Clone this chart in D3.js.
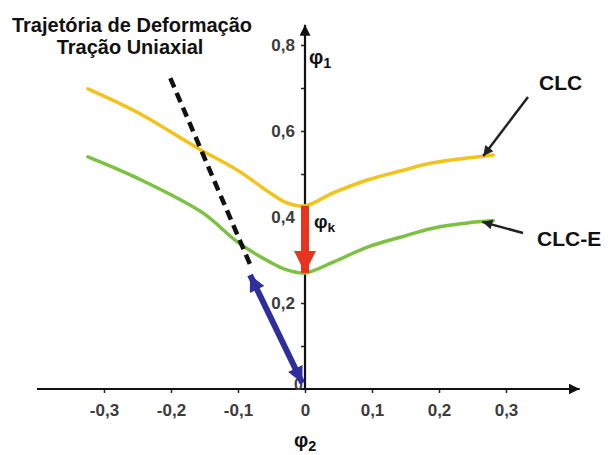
<!DOCTYPE html>
<html>
<head>
<meta charset="utf-8">
<script src="https://cdn.jsdelivr.net/npm/d3@7"></script>
<style>
  html, body { margin: 0; padding: 0; background: #fff; }
  svg { display: block; }
  text { font-family: "Liberation Sans", Arial, sans-serif; }
</style>
</head>
<body>
<svg id="chart" width="609" height="455"></svg>
<script>
// Axis ticks (φ2 horizontal, φ1 vertical)
const phi2Ticks = [-0.3, -0.2, -0.1, 0, 0.1, 0.2, 0.3];
const phi1Ticks = [0.1, 0.2, 0.3, 0.4, 0.5, 0.6, 0.7, 0.8];
const phi1Labels = [0.2, 0.4, 0.6, 0.8];

// Forming limit curve (CLC)
const clcPhi2 = [-0.324, -0.251, -0.160, -0.101, -0.052, -0.027, 0, 0.042, 0.093, 0.142, 0.191, 0.242, 0.281];
const clcPhi1 = [0.698, 0.644, 0.560, 0.509, 0.456, 0.433, 0.426, 0.456, 0.486, 0.507, 0.526, 0.537, 0.544];

// Shifted limit curve (CLC-E)
const clcePhi2 = [-0.324, -0.251, -0.152, -0.101, -0.052, -0.027, 0, 0.042, 0.093, 0.142, 0.191, 0.242, 0.281];
const clcePhi1 = [0.540, 0.491, 0.409, 0.342, 0.295, 0.277, 0.270, 0.295, 0.330, 0.353, 0.374, 0.386, 0.391];

// Uniaxial tension strain path (dashed) and the strain reached (arrow)
const pathPhi2 = [-0.201, -0.079];
const pathPhi1 = [0.723, 0.279];
const strainPhi2 = [-0.004, -0.082];
const strainPhi1 = [0.014, 0.265];

// φk: drop of the plane-strain limit from CLC to CLC-E
const phiKFrom = 0.426;
const phiKTo = 0.270;

const svg = d3.select("#chart");
const x = d3.scaleLinear().domain([-0.3, 0.3]).range([104, 506]);
const y = d3.scaleLinear().domain([0, 0.8]).range([389, 45]);
const fmt = d => (Math.abs(d) < 1e-9 ? "0" : d.toFixed(1).replace(".", ","));

const defs = svg.append("defs");
function marker(id, color, w, h) {
  defs.append("marker")
    .attr("id", id).attr("viewBox", "0 0 10 10")
    .attr("refX", 10).attr("refY", 5)
    .attr("markerWidth", w).attr("markerHeight", h)
    .attr("markerUnits", "userSpaceOnUse")
    .attr("orient", "auto-start-reverse")
    .append("path").attr("d", "M0,0 L10,5 L0,10 Z").attr("fill", color);
}
marker("axisHead", "#111", 11, 11);
marker("noteHead", "#222", 12, 10);
marker("blueHead", "#2e2e9c", 18, 16);
marker("redHead", "#e8341f", 24, 22);

// Axes
const gx = svg.append("g").attr("transform", `translate(0,${y(0)})`)
  .call(d3.axisBottom(x).tickValues(phi2Ticks).tickSize(4).tickPadding(11).tickFormat(fmt));
gx.select(".domain").remove();
gx.selectAll(".tick line").attr("stroke", "#222").attr("stroke-width", 1.5);
gx.selectAll(".tick text")
  .attr("font-size", 17).attr("font-weight", "bold").attr("fill", "#3c3c3c")
  .attr("font-family", "Liberation Sans, Arial, sans-serif");

const gy = svg.append("g").attr("transform", `translate(${x(0)},0)`)
  .call(d3.axisLeft(y).tickValues(phi1Ticks).tickSize(4).tickPadding(6)
    .tickFormat(d => phi1Labels.some(v => Math.abs(v - d) < 1e-9) ? fmt(d) : ""));
gy.select(".domain").remove();
gy.selectAll(".tick line").attr("stroke", "#222").attr("stroke-width", 1.5);
gy.selectAll(".tick text")
  .attr("font-size", 17).attr("font-weight", "bold").attr("fill", "#3c3c3c")
  .attr("font-family", "Liberation Sans, Arial, sans-serif");

svg.append("line")
  .attr("x1", x(-0.4)).attr("x2", x(0.41)).attr("y1", y(0)).attr("y2", y(0))
  .attr("stroke", "#111").attr("stroke-width", 2.2).attr("marker-end", "url(#axisHead)");
svg.append("line")
  .attr("x1", x(0)).attr("x2", x(0)).attr("y1", y(0)).attr("y2", y(0.847))
  .attr("stroke", "#111").attr("stroke-width", 2.2).attr("marker-end", "url(#axisHead)");

// Origin label
svg.append("text").attr("x", x(0) - 2).attr("y", y(0) + 1)
  .attr("text-anchor", "end").attr("font-size", 16).attr("font-weight", "bold")
  .attr("fill", "#3c3c3c").text("0");

// Curves
const curve = d3.line().x(d => x(d[0])).y(d => y(d[1])).curve(d3.curveCatmullRom.alpha(0.5));
svg.append("path").datum(d3.zip(clcPhi2, clcPhi1))
  .attr("d", curve).attr("fill", "none").attr("stroke", "#f3c21b").attr("stroke-width", 3.5)
  .attr("stroke-linecap", "round");
svg.append("path").datum(d3.zip(clcePhi2, clcePhi1))
  .attr("d", curve).attr("fill", "none").attr("stroke", "#7cc142").attr("stroke-width", 3.5)
  .attr("stroke-linecap", "round");

// Strain path
svg.append("line")
  .attr("x1", x(pathPhi2[0])).attr("y1", y(pathPhi1[0]))
  .attr("x2", x(pathPhi2[1])).attr("y2", y(pathPhi1[1]))
  .attr("stroke", "#111").attr("stroke-width", 4.5).attr("stroke-dasharray", "10,6");

svg.append("line")
  .attr("x1", x(strainPhi2[0])).attr("y1", y(strainPhi1[0]))
  .attr("x2", x(strainPhi2[1])).attr("y2", y(strainPhi1[1]))
  .attr("stroke", "#2e2e9c").attr("stroke-width", 6)
  .attr("marker-start", "url(#blueHead)").attr("marker-end", "url(#blueHead)");

// φk arrow
svg.append("line")
  .attr("x1", x(0)).attr("y1", y(phiKFrom))
  .attr("x2", x(0)).attr("y2", y(phiKTo))
  .attr("stroke", "#e8341f").attr("stroke-width", 8)
  .attr("marker-end", "url(#redHead)");

// Annotation arrows
const clcEnd = [clcPhi2[clcPhi2.length - 1], clcPhi1[clcPhi1.length - 1]];
const clceEnd = [clcePhi2[clcePhi2.length - 1], clcePhi1[clcePhi1.length - 1]];
svg.append("line")
  .attr("x1", 528).attr("y1", 97).attr("x2", x(clcEnd[0]) - 10).attr("y2", y(clcEnd[1]) + 1)
  .attr("stroke", "#222").attr("stroke-width", 2.5).attr("marker-end", "url(#noteHead)");
svg.append("line")
  .attr("x1", 523).attr("y1", 233).attr("x2", x(clceEnd[0]) - 11).attr("y2", y(clceEnd[1]) + 1)
  .attr("stroke", "#222").attr("stroke-width", 2.5).attr("marker-end", "url(#noteHead)");

svg.append("text").attr("x", 539).attr("y", 90).attr("font-size", 21).attr("font-weight", "bold")
  .attr("fill", "#111").text("CLC");
svg.append("text").attr("x", 537).attr("y", 246).attr("font-size", 21).attr("font-weight", "bold")
  .attr("fill", "#111").text("CLC-E");

// Axis names
function phiLabel(px, py, sub, size) {
  const t = svg.append("text").attr("x", px).attr("y", py)
    .attr("font-family", "DejaVu Serif, serif").attr("font-weight", "bold")
    .attr("font-size", size).attr("fill", "#111");
  t.append("tspan").text("φ");
  t.append("tspan").attr("font-size", size * 0.72).attr("dy", 4).text(sub);
}
phiLabel(309, 64, "1", 20);
phiLabel(314, 228, "k", 19);
phiLabel(294, 447, "2", 20);

// Title
const title = svg.append("text").attr("text-anchor", "middle").attr("font-size", 20)
  .attr("font-weight", "bold").attr("fill", "#111");
title.append("tspan").attr("x", 132).attr("y", 32).text("Trajetória de Deformação");
title.append("tspan").attr("x", 130).attr("y", 54).text("Tração Uniaxial");
</script>
</body>
</html>
